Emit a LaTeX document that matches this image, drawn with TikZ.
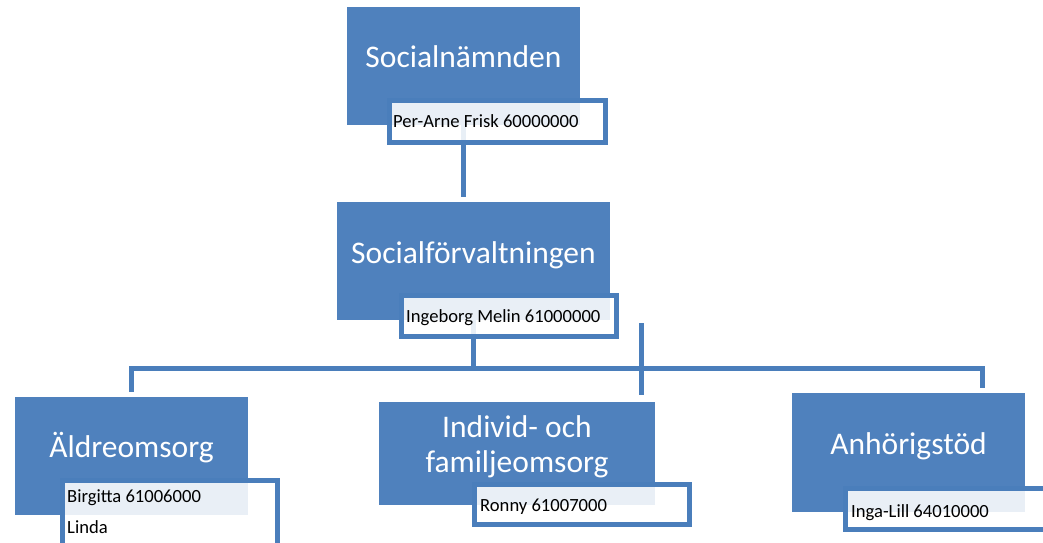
\documentclass[tikz,border=0pt]{standalone}
\usepackage{fontspec}
\setmainfont{Carlito}
\usetikzlibrary{calc}
\definecolor{boxblue}{HTML}{4F81BD}
\definecolor{lineblue}{HTML}{4A7EBB}
\tikzset{
  unit/.style 2 args={fill=boxblue,minimum width=#1,minimum height=#2,inner sep=0pt},
  namebox/.style 2 args={draw=lineblue,line width=5pt,fill=white,fill opacity=.88,minimum width=#1,minimum height=#2,inner sep=0pt},
  title/.style={text=white,font=\fontsize{31.5}{35}\selectfont,anchor=base,align=center,inner sep=0pt},
  person/.style={anchor=base west,font=\fontsize{18.6}{31}\selectfont,align=left,inner sep=0pt},
  conn/.style={draw=lineblue,line width=5pt}
}
\begin{document}
\begin{tikzpicture}[x=1pt,y=-1pt]
\useasboundingbox (0,0) rectangle (1043,542);
\clip (0,0) rectangle (1043,542);
\node[unit={233}{118}] (nam) at (463.5,66) {};
\node[unit={273}{118}] (forv) at (473.5,261) {};
\node[unit={233}{118}] (aldre) at (131.5,456) {};
\node[unit={276}{103}] (ifo) at (517,453.5) {};
\node[unit={233}{119}] (anh) at (908.5,452.5) {};
\coordinate (bus) at (0,368);
\coordinate (k1) at (641,323);
\coordinate (k2) at (641,395);
\coordinate (r1) at (982,368);
\draw[conn,shorten >=5pt] (nam.south) -- (nam.south |- forv.north);
\draw[conn] (forv.south) -- (forv.south |- bus);
\draw[conn,line cap=rect] (aldre.north |- bus) -- (r1);
\draw[conn,shorten >=5pt] (aldre.north |- bus) -- (aldre.north);
\draw[conn,shorten >=5pt] (r1) -- (r1 |- anh.north);
\draw[conn] (k1) -- (k2);
\node[namebox={216}{42}] (n1) at (497.5,121.5) {};
\node[namebox={215}{41}] (n2) at (509,316) {};
\node[namebox={215}{65}] (n3) at (170,513) {};
\node[namebox={215}{40}] (n4) at (582,504.5) {};
\node[namebox={202}{41}] (n5) at (946.5,509) {};
\node[title] (t1) at (463.5,67) {Socialnämnden};
\node[title] (t2) at (473.5,263) {Socialförvaltningen};
\node[title] (t3) at (131.5,457) {Äldreomsorg};
\node[title] (t4) at (517,472) {Individ- och\\familjeomsorg};
\node[title] (t5) at (908.5,454) {Anhörigstöd};
\node[person] (p1) at (393,127) {Per-Arne Frisk 60000000};
\node[person] (p2) at (406,322) {Ingeborg Melin 61000000};
\node[person] (p3) at (67,533) {Birgitta 61006000\\Linda};
\node[person] (p4) at (480,511) {Ronny 61007000};
\node[person] (p5) at (851,517) {Inga-Lill 64010000};
\end{tikzpicture}
\end{document}
